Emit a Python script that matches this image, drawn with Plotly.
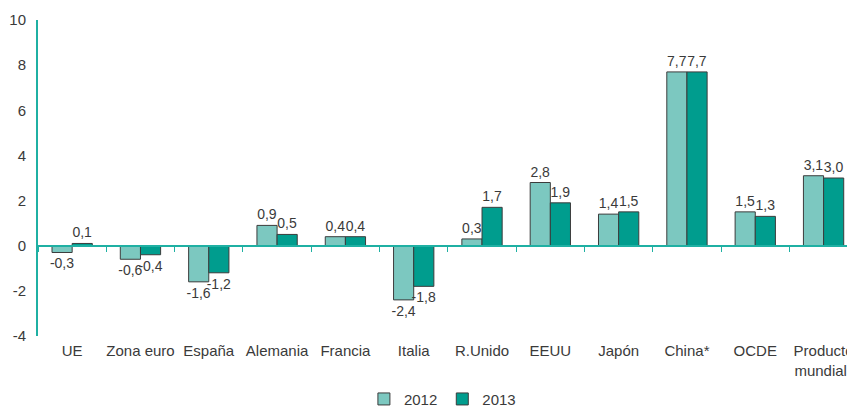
import plotly.graph_objects as go

categories = ["UE", "Zona euro", "España", "Alemania", "Francia", "Italia", "R.Unido",
              "EEUU", "Japón", "China*", "OCDE", "Producto<br>mundial*"]
v2012 = [-0.3, -0.6, -1.6, 0.9, 0.4, -2.4, 0.3, 2.8, 1.4, 7.7, 1.5, 3.1]
v2013 = [0.1, -0.4, -1.2, 0.5, 0.4, -1.8, 1.7, 1.9, 1.5, 7.7, 1.3, 3.0]
y_ticks = [-4, -2, 0, 2, 4, 6, 8, 10]

c2012 = "#7cc8c0"
c2013 = "#009d8e"
axis_c = "#1fb0a3"
txt_c = "#3a3a3a"
font_fam = "Liberation Sans, Arial, sans-serif"

def fmt(v):
    return f"{v:.1f}".replace(".", ",")

x_idx = list(range(len(categories)))
fig = go.Figure()
for name, vals, col in [("2012", v2012, c2012), ("2013", v2013, c2013)]:
    fig.add_trace(go.Bar(
        x=x_idx, y=vals, name=name,
        marker=dict(color=col, line=dict(color="#3c3c3c", width=1)),
        text=[fmt(v) for v in vals], textposition="outside",
        textfont=dict(size=14, color=txt_c, family=font_fam),
        constraintext="none", cliponaxis=False,
    ))

# invisible trace for overlay axis (zero-line with category-boundary ticks)
fig.add_trace(go.Scatter(x=[-0.5, 11.5], y=[0, 0], xaxis="x2", mode="lines",
                         line=dict(color="rgba(0,0,0,0)"), showlegend=False, hoverinfo="skip"))

xr = [-0.5, 11.46]
fig.update_layout(
    width=847, height=400,
    margin=dict(l=30, r=0, t=12, b=72, autoexpand=False),
    paper_bgcolor="white", plot_bgcolor="white",
    font=dict(family=font_fam, color=txt_c, size=15),
    barmode="group", bargap=0.41, bargroupgap=0,
    showlegend=True,
    legend=dict(orientation="h", x=0.495, xanchor="center", y=-0.2, yanchor="middle",
                font=dict(size=15, color=txt_c), itemwidth=30, traceorder="normal"),
    xaxis=dict(range=xr, tickmode="array", tickvals=x_idx, ticktext=categories,
               showline=False, ticks="", showgrid=False, zeroline=False, automargin=False,
               tickfont=dict(size=15, color=txt_c), ticklabelstandoff=4),
    xaxis2=dict(overlaying="x", anchor="free", position=4/14, range=xr,
                tickmode="array", tickvals=[i + 0.5 for i in range(-1, 12)],
                ticktext=[""] * 13, ticks="outside", ticklen=5, tickcolor=axis_c,
                showline=True, linecolor=axis_c, linewidth=2, showgrid=False,
                zeroline=False, side="bottom", automargin=False),
    yaxis=dict(range=[-4, 10], tickmode="array", tickvals=y_ticks,
               ticktext=[str(t) for t in y_ticks], showline=True, linecolor=axis_c,
               linewidth=2, ticks="", showgrid=False, zeroline=False, automargin=False,
               tickfont=dict(size=15, color=txt_c), ticklabelstandoff=7),
)
fig.write_html("out.html")
